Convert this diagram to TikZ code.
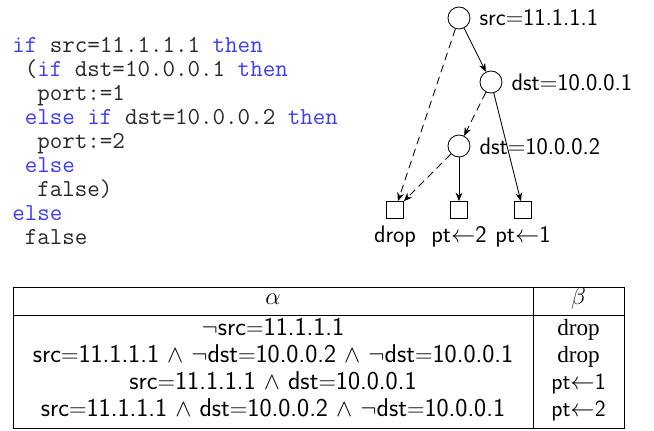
\documentclass[tikz,border=0pt]{standalone}
\usepackage{fontspec}
\usetikzlibrary{arrows.meta}
\newfontfamily\timesfont{Liberation Serif}
\definecolor{kwblue}{RGB}{60,60,250}
\definecolor{codegray}{RGB}{40,40,40}
\newcommand{\kw}[1]{\textcolor{kwblue}{#1}}
\newcommand{\codeind}[1]{\hspace*{#1\fontcharwd\font`x}}

\begin{document}
\begin{tikzpicture}[node distance=1.6cm]
    % Styles
    \tikzstyle{cond} = [circle, draw=black, line width=0.6pt, minimum size=0.55cm, inner sep=0pt]
    \tikzstyle{leaf} = [rectangle, draw=black, line width=0.6pt, minimum size=0.42cm, inner sep=0pt]
    \tikzstyle{condlbl} = [anchor=west, inner sep=0pt, xshift=0.22cm, font=\sffamily\fontsize{17}{20}\selectfont]
    \tikzstyle{leaflbl} = [anchor=base, inner sep=0pt, yshift=-0.6cm, font=\sffamily\fontsize{17}{20}\selectfont]
    \tikzstyle{arrow} = [line width=0.6pt,->,>={Stealth[length=6pt,width=4.8pt]}]
    \tikzstyle{dasharrow} = [arrow, dash pattern=on 5.5pt off 3.5pt]
    \tikzstyle{cell} = [anchor=base, inner sep=0pt, font=\sffamily\fontsize{18.3}{21}\selectfont]
    \tikzstyle{act} = [anchor=base, inner sep=0pt, font=\sffamily\fontsize{16.5}{19}\selectfont]

    \useasboundingbox (0,0) rectangle (16.35,10.775);

    % Programme
    \node (code) [anchor=north west, inner sep=0pt, align=left, text=codegray, font=\ttfamily\fontsize{17.3}{17}\selectfont] at (0.3,9.84)
        {\kw{if} src=11.1.1.1 \kw{then}\\
         \codeind{1}(\kw{if} dst=10.0.0.1 \kw{then}\\
         \codeind{2}port:=1\\
         \codeind{1}\kw{else if} dst=10.0.0.2 \kw{then}\\
         \codeind{2}port:=2\\
         \codeind{1}\kw{else}\\
         \codeind{2}false)\\
         \kw{else}\\
         \codeind{1}false};

    % Arbre
    \node (src) [cond] at (11.475,10.325) {};
    \node (dstA) [cond, below of=src, xshift=0.8cm] {};
    \node (dstB) [cond, below of=dstA, xshift=-0.8cm] {};
    \node (ptB) [leaf, below of=dstB] {};
    \node (drop) [leaf, left of=ptB] {};
    \node (ptA) [leaf, right of=ptB] {};

    \node (srclbl) [condlbl] at (src.east) {src$=$11.1.1.1};
    \node (dstAlbl) [condlbl] at (dstA.east) {dst$=$10.0.0.1};
    \node (dstBlbl) [condlbl] at (dstB.east) {dst$=$10.0.0.2};
    \node (droplbl) [leaflbl] at (drop.south) {drop};
    \node (ptBlbl) [leaflbl] at (ptB.south) {pt$\leftarrow$2};
    \node (ptAlbl) [leaflbl] at (ptA.south) {pt$\leftarrow$1};

    % Flèches
    \draw [arrow] (src) -- (dstA);
    \draw [dasharrow] (src) -- (drop);
    \draw [dasharrow] (dstA) -- (dstB);
    \draw [arrow] (dstA) -- (ptA);
    \draw [dasharrow] (dstB) -- (drop);
    \draw [arrow] (dstB) -- (ptB);

    % Tableau
    \draw [line width=0.7pt] (0.325,0.075) rectangle (15.6,3.6);
    \draw [line width=0.7pt] (0.325,2.9) -- (15.6,2.9);
    \draw [line width=0.7pt] (13.325,0.075) -- (13.325,3.6);

    \node (hdA) [cell] at (6.825,3.15) {$\alpha$};
    \node (hdB) [cell] at (14.4625,3.15) {$\beta$};
    \node (rowA) [cell] at (6.825,2.375) {$\neg$src$=$11.1.1.1};
    \node (rowB) [cell] at (6.825,1.7) {src$=$11.1.1.1 $\wedge$ $\neg$dst$=$10.0.0.2 $\wedge$ $\neg$dst$=$10.0.0.1};
    \node (rowC) [cell] at (6.825,1.025) {src$=$11.1.1.1 $\wedge$ dst$=$10.0.0.1};
    \node (rowD) [cell] at (6.825,0.35) {src$=$11.1.1.1 $\wedge$ dst$=$10.0.0.2 $\wedge$ $\neg$dst$=$10.0.0.1};
    \node (actA) [act] at (14.4625,2.375) {\timesfont\fontsize{16.5}{18}\selectfont drop};
    \node (actB) [act] at (14.4625,1.7) {\timesfont\fontsize{16.5}{18}\selectfont drop};
    \node (actC) [act] at (14.4625,1.025) {pt$\leftarrow$1};
    \node (actD) [act] at (14.4625,0.35) {pt$\leftarrow$2};
\end{tikzpicture}
\end{document}
